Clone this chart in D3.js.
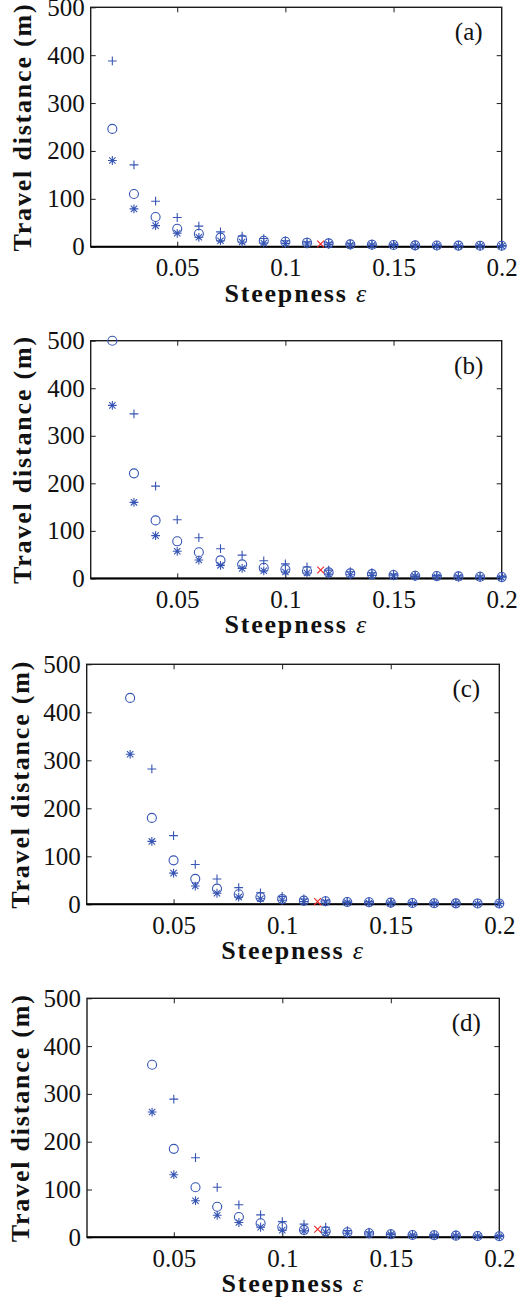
<!DOCTYPE html>
<html>
<head>
<meta charset="utf-8">
<script src="https://cdn.jsdelivr.net/npm/d3@7"></script>
<style>
  html, body { margin: 0; padding: 0; background: #fff; }
  svg { display: block; }
</style>
</head>
<body>
<svg id="chart" width="517" height="1299"></svg>
<script>
// ---------------- data ----------------
const steepness = [0.02,0.03,0.04,0.05,0.06,0.07,0.08,0.09,0.10,0.11,0.12,0.13,0.14,0.15,0.16,0.17,0.18,0.19,0.20];

const panelLabels = ["(a)", "(b)", "(c)", "(d)"];
const xTicks = [0.05, 0.1, 0.15, 0.2];
const yTicks = [0, 100, 200, 300, 400, 500];
const xTickLabels = ["0.05", "0.1", "0.15", "0.2"];
const yTickLabels = ["0", "100", "200", "300", "400", "500"];
const xTitle = "Steepness ";
const xTitleSymbol = "ε";
const yTitle = "Travel distance (m)";

// series per panel (null = outside of plotted range)
const plusA   = [388,171,95,61,43,31,22,17,12.5,10,8.4,6.3,5.6,4.9,3.5,3.2,3.0,2.8,2.5];
const circleA = [246,110,62,37.6,27,19,15,12.5,10.4,8.4,7,4.9,4.2,3.5,2.8,2.5,2.3,2.1,2.0];
const starA   = [180,79,44,28,19.6,12.5,9.8,7.5,7,5.6,4.9,3.5,2.8,2.8,2,1.8,1.6,1.4,1.3];
const crossA  = {x: 0.1163, y: 5.6};

const plusB   = [null,346,194,123.5,85.6,62.5,49,37,30.5,24,17.5,14,12,9,7,6.3,5.6,5,4.2];
const circleB = [500,221,122,78,55,38,29.6,22.5,19,15.5,12.6,10.5,9,7,5.6,4.9,4.2,3.5,2.8];
const starB   = [364,160,90,57,38.7,27.5,21,16,13.5,11.5,9,7.7,6.3,5.6,4.2,3.5,2.8,2,1.4];
const crossB  = {x: 0.1163, y: 17.5};

const plusC   = [null,null,282,143,83,52.7,34.7,24,16.5,11,8.3,6.3,5.6,4.2,3.5,3,2.6,2.3,2];
const circleC = [null,430,180,91.6,53,32.6,20.8,15,11,7.6,6.3,4.9,4.2,3.5,2.8,2.3,2,1.8,1.6];
const starC   = [null,312.5,131,65,38,23,15,11.5,8.3,5.6,4.9,3.5,2.8,2.1,1.8,1.5,1.3,1.2,1];
const crossC  = {x: 0.1163, y: 5.6};

const plusD   = [null,null,null,289,166.5,104.6,68,47,32.7,27.5,21,14,11,8.4,6.3,5.6,4.9,4.2,3.5];
const circleD = [null,null,361,185,104.6,64,42.5,29.5,21.5,15.5,12.5,10.5,8.4,6.3,4.9,4.2,3.5,2.8,2.1];
const starD   = [null,null,262,131,76.6,46,31,21,15,13.5,10.5,8.4,7,5.6,4.2,3.5,2.8,2.1,1.4];
const crossD  = {x: 0.1163, y: 17};

// ---------------- layout ----------------
const panels = [
  {plus: plusA, circle: circleA, star: starA, cross: crossA, label: panelLabels[0],
   left: 90.7, right: 501.7, top: 7.3, bottom: 246.7, yTitleX: 30.5},
  {plus: plusB, circle: circleB, star: starB, cross: crossB, label: panelLabels[1],
   left: 90.7, right: 501.7, top: 340.7, bottom: 578.4, yTitleX: 30.5},
  {plus: plusC, circle: circleC, star: starC, cross: crossC, label: panelLabels[2],
   left: 86.7, right: 499.3, top: 664.3, bottom: 904.3, yTitleX: 29},
  {plus: plusD, circle: circleD, star: starD, cross: crossD, label: panelLabels[3],
   left: 87, right: 499.3, top: 998.3, bottom: 1237.3, yTitleX: 29}
];

const BLUE = "#3655b4";
const RED = "#f02828";
const AXIS = "#1c1c1c";
const SERIF = "'Liberation Serif', 'Times New Roman', serif";

const svg = d3.select("#chart");

const M = 4.4;          // marker half-size
const D = M * 0.72;     // asterisk diagonal half-size
const plusPath = `M${-M},0H${M}M0,${-M}V${M}`;
const starPath = `M${-M},0H${M}M0,${-M}V${M}M${-D},${-D}L${D},${D}M${-D},${D}L${D},${-D}`;
const XC = 3.4;
const crossPath = `M${-XC},${-XC}L${XC},${XC}M${-XC},${XC}L${XC},${-XC}`;

panels.forEach(p => {
  const x = d3.scaleLinear().domain([0.01, 0.2]).range([p.left, p.right]);
  const y = d3.scaleLinear().domain([0, 500]).range([p.bottom, p.top]);
  const g = svg.append("g");

  const fmtX = d => xTickLabels[xTicks.indexOf(d)];
  const fmtY = d => yTickLabels[yTicks.indexOf(d)];

  const bottom = g.append("g").attr("transform", `translate(0,${p.bottom})`)
    .call(d3.axisBottom(x).tickValues(xTicks).tickFormat(fmtX).tickSizeInner(-5).tickSizeOuter(0).tickPadding(11.5));
  const left = g.append("g").attr("transform", `translate(${p.left},0)`)
    .call(d3.axisLeft(y).tickValues(yTicks).tickFormat(fmtY).tickSizeInner(-5).tickSizeOuter(0).tickPadding(6));
  const top = g.append("g").attr("transform", `translate(0,${p.top})`)
    .call(d3.axisTop(x).tickValues(xTicks.slice(0, 3)).tickFormat("").tickSizeInner(-5).tickSizeOuter(0));
  const right = g.append("g").attr("transform", `translate(${p.right},0)`)
    .call(d3.axisRight(y).tickValues(yTicks.slice(1, 5)).tickFormat("").tickSizeInner(-5).tickSizeOuter(0));

  [bottom, left, top, right].forEach(a => {
    a.select(".domain").remove();
    a.selectAll(".tick line").attr("stroke", AXIS).attr("stroke-width", 1);
    a.selectAll(".tick text").attr("fill", "#111").style("font-family", SERIF).style("font-size", "25px");
  });

  // frame
  g.append("rect")
    .attr("x", p.left).attr("y", p.top)
    .attr("width", p.right - p.left).attr("height", p.bottom - p.top)
    .attr("fill", "none").attr("stroke", AXIS).attr("stroke-width", 1.4);
  g.append("line")
    .attr("x1", p.left).attr("x2", p.right).attr("y1", p.bottom).attr("y2", p.bottom)
    .attr("stroke", "#000").attr("stroke-width", 2);

  // markers
  const drawSeries = (vals, path) => {
    g.append("g").selectAll("path")
      .data(steepness.map((s, i) => ({s, v: vals[i]})).filter(d => d.v !== null))
      .join("path")
      .attr("transform", d => `translate(${x(d.s)},${y(d.v)})`)
      .attr("d", path)
      .attr("fill", "none").attr("stroke", BLUE).attr("stroke-width", 1.1);
  };
  drawSeries(p.plus, plusPath);
  g.append("g").selectAll("circle")
    .data(steepness.map((s, i) => ({s, v: p.circle[i]})).filter(d => d.v !== null))
    .join("circle")
    .attr("cx", d => x(d.s)).attr("cy", d => y(d.v)).attr("r", 4.5)
    .attr("fill", "none").attr("stroke", BLUE).attr("stroke-width", 1.1);
  drawSeries(p.star, starPath);

  g.append("path")
    .attr("transform", `translate(${x(p.cross.x)},${y(p.cross.y)})`)
    .attr("d", crossPath)
    .attr("fill", "none").attr("stroke", RED).attr("stroke-width", 1.1);

  // panel label
  g.append("text")
    .attr("x", p.right - 33).attr("y", p.top + 33)
    .attr("text-anchor", "middle")
    .style("font-family", SERIF).style("font-size", "25px").attr("fill", "#111")
    .text(p.label);

  // x title
  const xt = g.append("text")
    .attr("x", (p.left + p.right) / 2).attr("y", p.bottom + 55)
    .attr("text-anchor", "middle")
    .style("font-family", SERIF).style("font-size", "26px").style("font-weight", "bold")
    .style("letter-spacing", "1.8px").attr("fill", "#111");
  xt.append("tspan").text(xTitle);
  xt.append("tspan").style("font-style", "italic").style("font-weight", "normal").text(xTitleSymbol);

  // y title
  g.append("text")
    .attr("transform", `translate(${p.yTitleX},${(p.top + p.bottom) / 2}) rotate(-90)`)
    .attr("text-anchor", "middle")
    .style("font-family", SERIF).style("font-size", "26px").style("font-weight", "bold")
    .style("letter-spacing", "1.8px").attr("fill", "#111")
    .text(yTitle);
});
</script>
</body>
</html>
